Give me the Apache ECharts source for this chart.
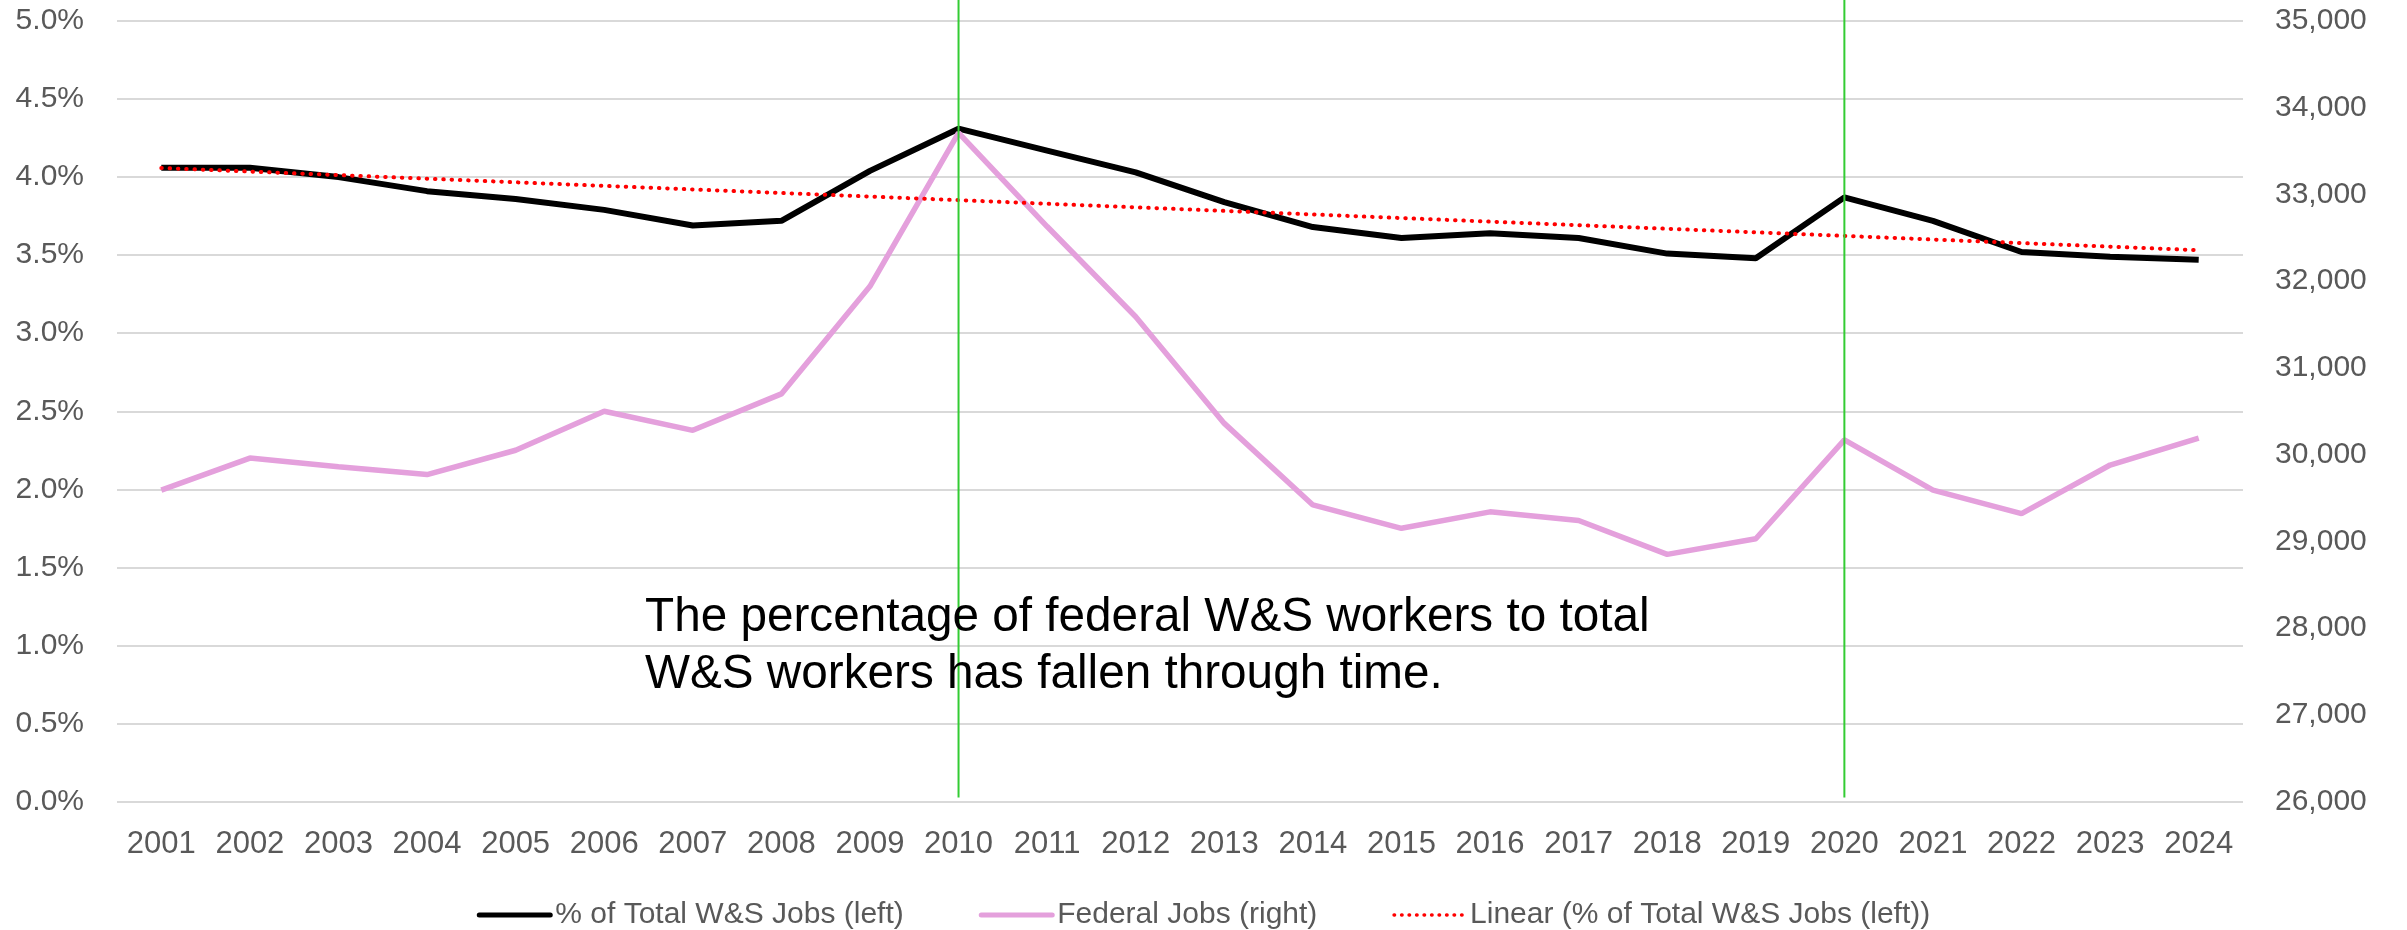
<!DOCTYPE html>
<html>
<head>
<meta charset="utf-8">
<script src="https://cdn.jsdelivr.net/npm/echarts@6/dist/echarts.min.js"></script>
<style>
  html, body { margin: 0; padding: 0; background: #fff; }
  #chart { width: 2407px; height: 930px; }
</style>
</head>
<body>
<div id="chart"></div>
<script>
// 年份
const years = ['2001', '2002', '2003', '2004', '2005', '2006', '2007', '2008', '2009', '2010', '2011', '2012',
    '2013', '2014', '2015', '2016', '2017', '2018', '2019', '2020', '2021', '2022', '2023', '2024'];
// % of Total W&S Jobs (left)
const pctTotal = [4.06, 4.06, 4.00, 3.91, 3.86, 3.79, 3.69, 3.72, 4.04, 4.31, 4.17, 4.03,
    3.84, 3.68, 3.61, 3.64, 3.61, 3.51, 3.48, 3.87, 3.72, 3.52, 3.49, 3.47];
// Federal Jobs (right)
const federalJobs = [29590, 29960, 29860, 29770, 30050, 30500, 30280, 30700, 31940, 33710, 32630, 31590,
    30360, 29420, 29150, 29340, 29240, 28850, 29030, 30170, 29590, 29320, 29880, 30190];
// 竖线标记的年份
const markYears = ['2010', '2020'];
const note = ['The percentage of federal W&S workers to total', 'W&S workers has fallen through time.'];

const font = 'Liberation Sans';
const labelColor = '#595959';
const names = ['% of Total W&S Jobs (left)', 'Federal Jobs (right)', 'Linear (% of Total W&S Jobs (left))'];

// 线性趋势 (最小二乘)
function linearTrend(data) {
    let n = data.length;
    let sx = 0, sy = 0, sxy = 0, sxx = 0;
    data.forEach((v, i) => {
        sx += i; sy += v; sxy += i * v; sxx += i * i;
    });
    let b = (n * sxy - sx * sy) / (n * sxx - sx * sx);
    let a = (sy - b * sx) / n;
    return data.map((v, i) => +(a + b * i).toFixed(4));
}

let myChart = echarts.init(document.getElementById('chart'));
let option = {
    animation: false,
    textStyle: { fontFamily: font },
    grid: {
        left: 117,
        right: 164,
        top: 21,
        bottom: 128.5,
        containLabel: false
    },
    legend: {
        top: 895,
        left: 'center',
        itemWidth: 71,
        itemHeight: 16,
        itemGap: 75,
        itemStyle: { opacity: 0 },
        textStyle: { color: labelColor, fontSize: 30, fontFamily: font },
        data: [
            { name: names[0], lineStyle: { width: 5, cap: 'round' } },
            { name: names[1], lineStyle: { width: 5, cap: 'round' } },
            { name: names[2], lineStyle: { width: 3.5, type: [0.5, 7], cap: 'round' } }
        ]
    },
    xAxis: {
        type: 'category',
        data: years,
        boundaryGap: true,
        axisLine: { show: false },
        axisTick: { show: false },
        axisLabel: { color: labelColor, fontSize: 31, margin: 27, interval: 0, fontFamily: font }
    },
    yAxis: [{
        type: 'value',
        min: 0,
        max: 5,
        interval: 0.5,
        axisLine: { show: false },
        axisTick: { show: false },
        axisLabel: {
            color: labelColor, fontSize: 30, margin: 33, fontFamily: font,
            formatter: v => v.toFixed(1) + '%'
        },
        splitLine: { lineStyle: { color: '#d9d9d9', width: 2 } }
    }, {
        type: 'value',
        min: 26000,
        max: 35000,
        interval: 1000,
        axisLine: { show: false },
        axisTick: { show: false },
        axisLabel: {
            color: labelColor, fontSize: 30, margin: 32, fontFamily: font,
            formatter: v => v.toLocaleString('en-US')
        },
        splitLine: { show: false }
    }],
    series: [{
        name: names[0],
        type: 'line',
        yAxisIndex: 0,
        data: pctTotal,
        symbol: 'none',
        lineStyle: { color: '#000', width: 6 },
        itemStyle: { color: '#000' }
    }, {
        name: names[1],
        type: 'line',
        yAxisIndex: 1,
        data: federalJobs,
        symbol: 'none',
        lineStyle: { color: '#e4a0dc', width: 5.5 },
        itemStyle: { color: '#e4a0dc' }
    }, {
        name: names[2],
        type: 'line',
        yAxisIndex: 0,
        data: linearTrend(pctTotal),
        symbol: 'none',
        lineStyle: { color: '#ff0000', width: 4, type: [0.5, 7.8], cap: 'round' },
        itemStyle: { color: '#ff0000' }
    }]
};
myChart.setOption(option);

// 竖线 + 注释文字
let bottomY = myChart.convertToPixel({ yAxisIndex: 0 }, 0);
let graphics = markYears.map(y => {
    let x = myChart.convertToPixel({ xAxisIndex: 0 }, y);
    return {
        type: 'line',
        z: 100,
        shape: { x1: x, y1: 0, x2: x, y2: bottomY - 4 },
        style: { stroke: '#33cc33', lineWidth: 2 }
    };
});
graphics.push({
    type: 'text',
    z: 100,
    left: 645,
    top: 589,
    style: {
        text: note.join('\n'),
        fill: '#000',
        font: '47.7px "Liberation Sans"',
        lineHeight: 57
    }
});
myChart.setOption({ graphic: graphics });
</script>
</body>
</html>
